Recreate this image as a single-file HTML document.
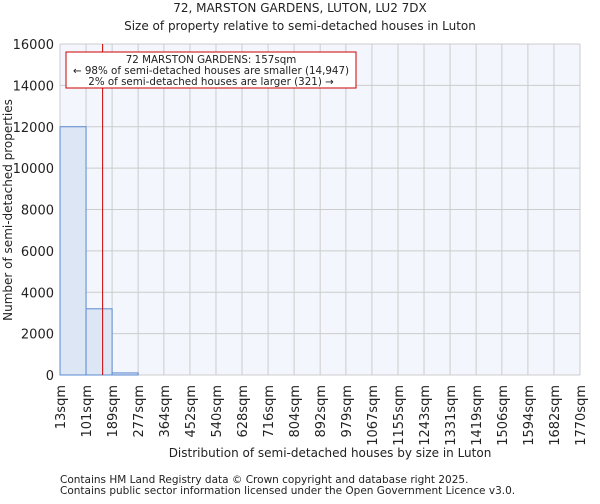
<!DOCTYPE html>
<html><head><meta charset="utf-8"><style>
body{margin:0;background:#fff;font-family:"DejaVu Sans","Liberation Sans",sans-serif;}
svg text{font-family:"DejaVu Sans","Liberation Sans",sans-serif;fill:#222;}
</style></head><body>
<svg id="c" width="600" height="500" xmlns="http://www.w3.org/2000/svg">
<text x="300" y="12" text-anchor="middle" font-size="12">72, MARSTON GARDENS, LUTON, LU2 7DX</text>
<text x="300" y="30" text-anchor="middle" font-size="12">Size of property relative to semi-detached houses in Luton</text>
<rect x="60" y="44" width="520" height="331" fill="#f3f6fc"/>
<g id="grid"></g><g id="bars"></g><g id="ticks"></g>
<text transform="translate(12,210) rotate(-90)" text-anchor="middle" font-size="12">Number of semi-detached properties</text>
<text x="330" y="457" text-anchor="middle" font-size="12">Distribution of semi-detached houses by size in Luton</text>
<text x="60" y="483" font-size="10.5">Contains HM Land Registry data © Crown copyright and database right 2025.</text>
<text x="60" y="494" font-size="10.5">Contains public sector information licensed under the Open Government Licence v3.0.</text>
</svg>
<script>
const edges=[13,101,189,277,364,452,540,628,716,804,892,979,1067,1155,1243,1331,1419,1506,1594,1682,1770];
const counts=[12000,3200,100,0,0,0,0,0,0,0,0,0,0,0,0,0,0,0,0,0];
const yTicks=[0,2000,4000,6000,8000,10000,12000,14000,16000];
const propertySize=157;
const NS="http://www.w3.org/2000/svg";
const x0=60,x1=580,y0=375,y1=44;
const xs=v=>x0+(v-edges[0])/(edges[edges.length-1]-edges[0])*(x1-x0);
const ys=v=>y0-v/16000*(y0-y1);
function mk(t,a,p){const e=document.createElementNS(NS,t);for(const k in a)e.setAttribute(k,a[k]);document.getElementById(p).appendChild(e);return e;}
yTicks.forEach(v=>{
 const l=mk('line',{x1:x0,x2:x1,y1:ys(v),y2:ys(v),stroke:'#ccc','stroke-width':1},'grid');
 
 
 const t=mk('text',{x:x0-6,y:ys(v)+5,'text-anchor':'end','font-size':13},'ticks');
 t.textContent=v;
 
 
});
edges.forEach(v=>{
 const l=mk('line',{x1:xs(v),x2:xs(v),y1:y1,y2:y0,stroke:'#ccc','stroke-width':1},'grid');
 
 
 const t=mk('text',{transform:`translate(${xs(v)+5},${y0+10}) rotate(-90)`,'text-anchor':'end','font-size':13},'ticks');
 t.textContent=v+'sqm';
 
 
});
counts.forEach((c,i)=>{
 if(c<=0)return;
 const r=mk('rect',{x:xs(edges[i]),y:ys(c),width:xs(edges[i+1])-xs(edges[i]),height:y0-ys(c),fill:'#dce6f4',stroke:'#5b8bd0','stroke-width':1},'bars');
 
 
});
const m=mk('line',{x1:xs(propertySize),x2:xs(propertySize),y1:y1,y2:y0,stroke:'#c00','stroke-width':1},'bars');


const b=mk('rect',{x:66,y:52,width:290,height:36,fill:'#fff',stroke:'#c00','stroke-width':1},'bars');


['72 MARSTON GARDENS: 157sqm','← 98% of semi-detached houses are smaller (14,947)','2% of semi-detached houses are larger (321) →'].forEach((s,i)=>{
 const t=mk('text',{x:211,y:63+i*11,'text-anchor':'middle','font-size':10.3},'bars');
 t.textContent=s;
 
 
});
</script>
</body></html>
